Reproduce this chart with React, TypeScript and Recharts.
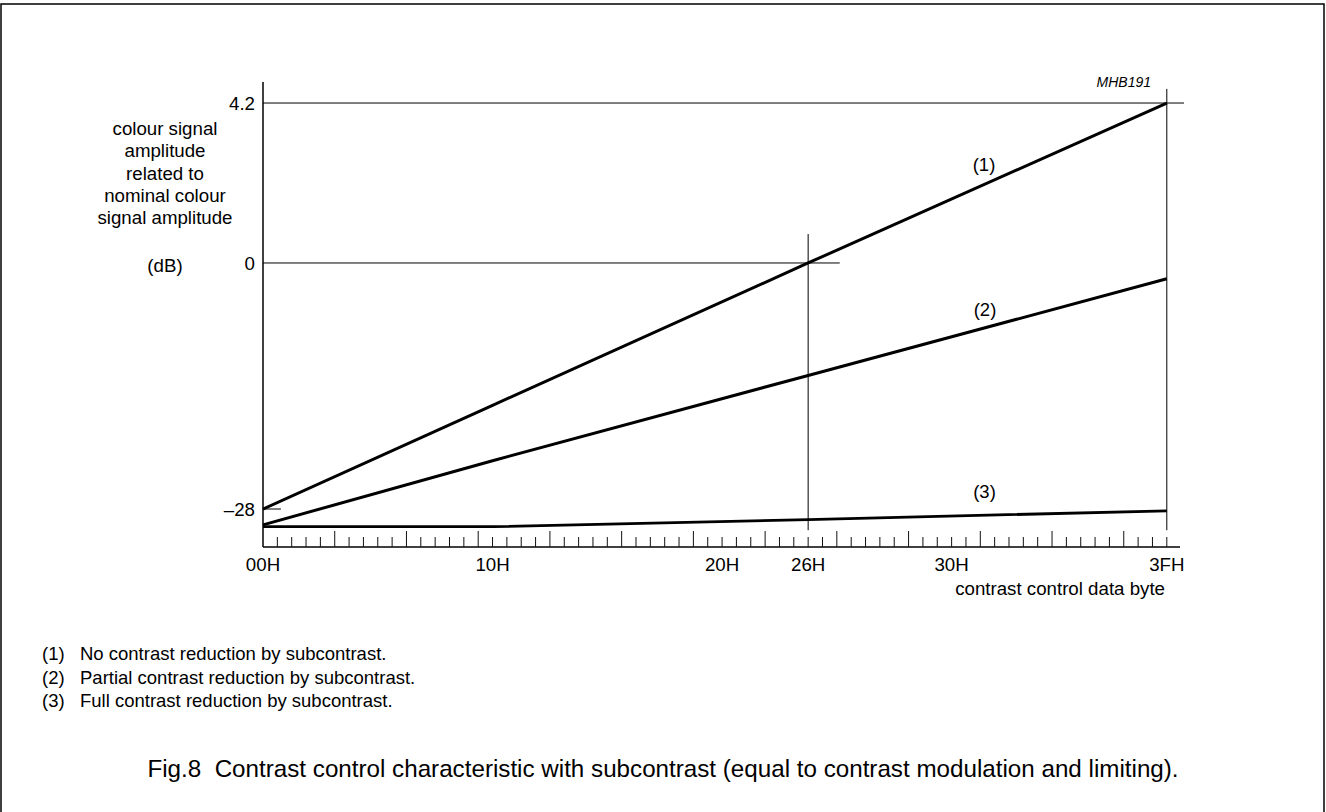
import { LineChart, Line, XAxis, YAxis, ReferenceLine } from "recharts";

// contrast control data byte (hex codes), read at 00H, 10H, 26H, 3FH
const codes = [0x00, 0x10, 0x26, 0x3f];
// colour signal amplitude (dB) for each curve
const noReduction = [-28, -16.2, 0, 4.2];
const partialReduction = [-29.8, -22.5, -12.8, -1.8];
const fullReduction = [-30, -30, -29.2, -28.2];

const yTicks = [-28, 0, 4.2];
const yTickLabels = ["\u201328", "0", "4.2"];
const xTickCodes = [0x00, 0x10, 0x20, 0x26, 0x30, 0x3f];
const xTickLabels = ["00H", "10H", "20H", "26H", "30H", "3FH"];
const legendItems = [
  "No contrast reduction by subcontrast.",
  "Partial contrast reduction by subcontrast.",
  "Full contrast reduction by subcontrast.",
];

const data = codes.map((code, i) => ({
  code,
  no: noReduction[i],
  partial: partialReduction[i],
  full: fullReduction[i],
}));

const allCodes = Array.from({ length: 64 }, (_, i) => i);

const FONT = '"Liberation Sans", Arial, Helvetica, sans-serif';

// the dB axis is drawn as a schematic: -28..0 and 0..4.2 take different lengths
const yKnots = [-32.3, -28, 0, 4.2, 4.75];
const yKnotPos = [0, 0.0817, 0.6108, 0.9548, 1];

function brokenScale(): any {
  let dom = [yKnots[0], yKnots[yKnots.length - 1]];
  let rng = [0, 1];
  const toFrac = (v: number) => {
    let i = 0;
    while (i < yKnots.length - 2 && v > yKnots[i + 1]) i++;
    const t = (v - yKnots[i]) / (yKnots[i + 1] - yKnots[i]);
    return yKnotPos[i] + t * (yKnotPos[i + 1] - yKnotPos[i]);
  };
  const fromFrac = (f: number) => {
    let i = 0;
    while (i < yKnotPos.length - 2 && f > yKnotPos[i + 1]) i++;
    const t = (f - yKnotPos[i]) / (yKnotPos[i + 1] - yKnotPos[i]);
    return yKnots[i] + t * (yKnots[i + 1] - yKnots[i]);
  };
  const s: any = (v: number) => rng[0] + (rng[1] - rng[0]) * toFrac(v);
  s.domain = (d?: number[]) => {
    if (d === undefined) return dom.slice();
    dom = d.slice();
    return s;
  };
  s.range = (r?: number[]) => {
    if (r === undefined) return rng.slice();
    rng = r.slice();
    return s;
  };
  s.copy = () => brokenScale().domain(dom).range(rng);
  s.ticks = () => yTicks.slice();
  s.tickFormat = () => (v: number) => String(v);
  s.invert = (px: number) => fromFrac((px - rng[0]) / (rng[1] - rng[0]));
  s.clamp = () => s;
  s.nice = () => s;
  return s;
}

function CodeTick(props: any) {
  const { x, y, payload } = props;
  const v = payload.value as number;
  const len = v % 5 === 0 ? 16 : 10;
  const idx = xTickCodes.indexOf(v);
  return (
    <g>
      {v > 0 && <line x1={x} x2={x} y1={y} y2={y - len} stroke="#111" strokeWidth={1} />}
      {idx >= 0 && (
        <text x={x} y={y + 24} textAnchor="middle" fontSize={18.7} fontFamily={FONT} fill="#000">
          {xTickLabels[idx]}
        </text>
      )}
    </g>
  );
}

function DbTick(props: any) {
  const { x, y, payload } = props;
  const idx = yTicks.indexOf(payload.value);
  return (
    <text x={x} y={y} dy="0.36em" textAnchor="end" fontSize={18.7} fontFamily={FONT} fill="#000">
      {yTickLabels[idx]}
    </text>
  );
}

const yLabelLines = ["colour signal", "amplitude", "related to", "nominal colour", "signal amplitude"];

export default function App() {
  return (
    <div style={{ position: "absolute", left: 0, top: 0, width: 1326, height: 812, background: "#fff" }}>
      <LineChart
        width={1326}
        height={812}
        data={data}
        margin={{ top: 82, right: 146, bottom: 235, left: 203 }}
      >
        <XAxis
          dataKey="code"
          type="number"
          domain={[0, 63.92]}
          ticks={allCodes}
          interval={0}
          height={30}
          tickSize={0}
          tickMargin={0}
          tickLine={false}
          axisLine={{ stroke: "#000", strokeWidth: 1.5 }}
          tick={<CodeTick />}
        />
        <YAxis
          type="number"
          scale={brokenScale()}
          domain={[-32.3, 4.75]}
          ticks={yTicks}
          interval={0}
          width={60}
          tickSize={0}
          tickMargin={8}
          tickLine={false}
          axisLine={{ stroke: "#000", strokeWidth: 1.5 }}
          tick={<DbTick />}
        />
        <ReferenceLine segment={[{ x: 0, y: 4.2 }, { x: 64.2, y: 4.2 }]} stroke="#000" strokeWidth={1} ifOverflow="visible" />
        <ReferenceLine segment={[{ x: 0, y: 0 }, { x: 40.2, y: 0 }]} stroke="#000" strokeWidth={1} ifOverflow="visible" />
        <ReferenceLine segment={[{ x: 0, y: -28 }, { x: 1.25, y: -28 }]} stroke="#000" strokeWidth={1} ifOverflow="visible" />
        <ReferenceLine segment={[{ x: 0x26, y: -30.4 }, { x: 0x26, y: 0.76 }]} stroke="#000" strokeWidth={1} ifOverflow="visible" />
        <ReferenceLine segment={[{ x: 0x3f, y: -30.4 }, { x: 0x3f, y: 4.57 }]} stroke="#000" strokeWidth={1} ifOverflow="visible" />
        <Line type="linear" dataKey="no" stroke="#000" strokeWidth={3} dot={false} activeDot={false} isAnimationActive={false} />
        <Line type="linear" dataKey="partial" stroke="#000" strokeWidth={3} dot={false} activeDot={false} isAnimationActive={false} />
        <Line type="linear" dataKey="full" stroke="#000" strokeWidth={2.8} dot={false} activeDot={false} isAnimationActive={false} />
      </LineChart>

      <svg
        width={1326}
        height={812}
        style={{ position: "absolute", left: 0, top: 0, pointerEvents: "none" }}
        fontFamily={FONT}
        fill="#000"
      >
        <rect x={1} y={4} width={1323} height={900} fill="none" stroke="#000" strokeWidth={1.5} />
        {yLabelLines.map((t, i) => (
          <text key={t} x={165} y={135 + i * 22.3} textAnchor="middle" fontSize={18.7}>
            {t}
          </text>
        ))}
        <text x={165} y={272} textAnchor="middle" fontSize={18.7}>(dB)</text>
        <text x={1151} y={87} textAnchor="end" fontSize={14} fontStyle="italic">MHB191</text>
        <text x={984} y={170.5} textAnchor="middle" fontSize={18.5}>(1)</text>
        <text x={985} y={316} textAnchor="middle" fontSize={18.5}>(2)</text>
        <text x={984.5} y={498} textAnchor="middle" fontSize={18.5}>(3)</text>
        <text x={1165} y={595} textAnchor="end" fontSize={18.7}>contrast control data byte</text>
        {legendItems.map((t, i) => (
          <g key={t} fontSize={18.5}>
            <text x={42} y={660 + i * 23.5}>({i + 1})</text>
            <text x={80} y={660 + i * 23.5}>{t}</text>
          </g>
        ))}
        <text x={663} y={777} textAnchor="middle" fontSize={24.2}>
          Fig.8{"\u00a0\u00a0"}Contrast control characteristic with subcontrast (equal to contrast modulation and limiting).
        </text>
      </svg>
    </div>
  );
}
